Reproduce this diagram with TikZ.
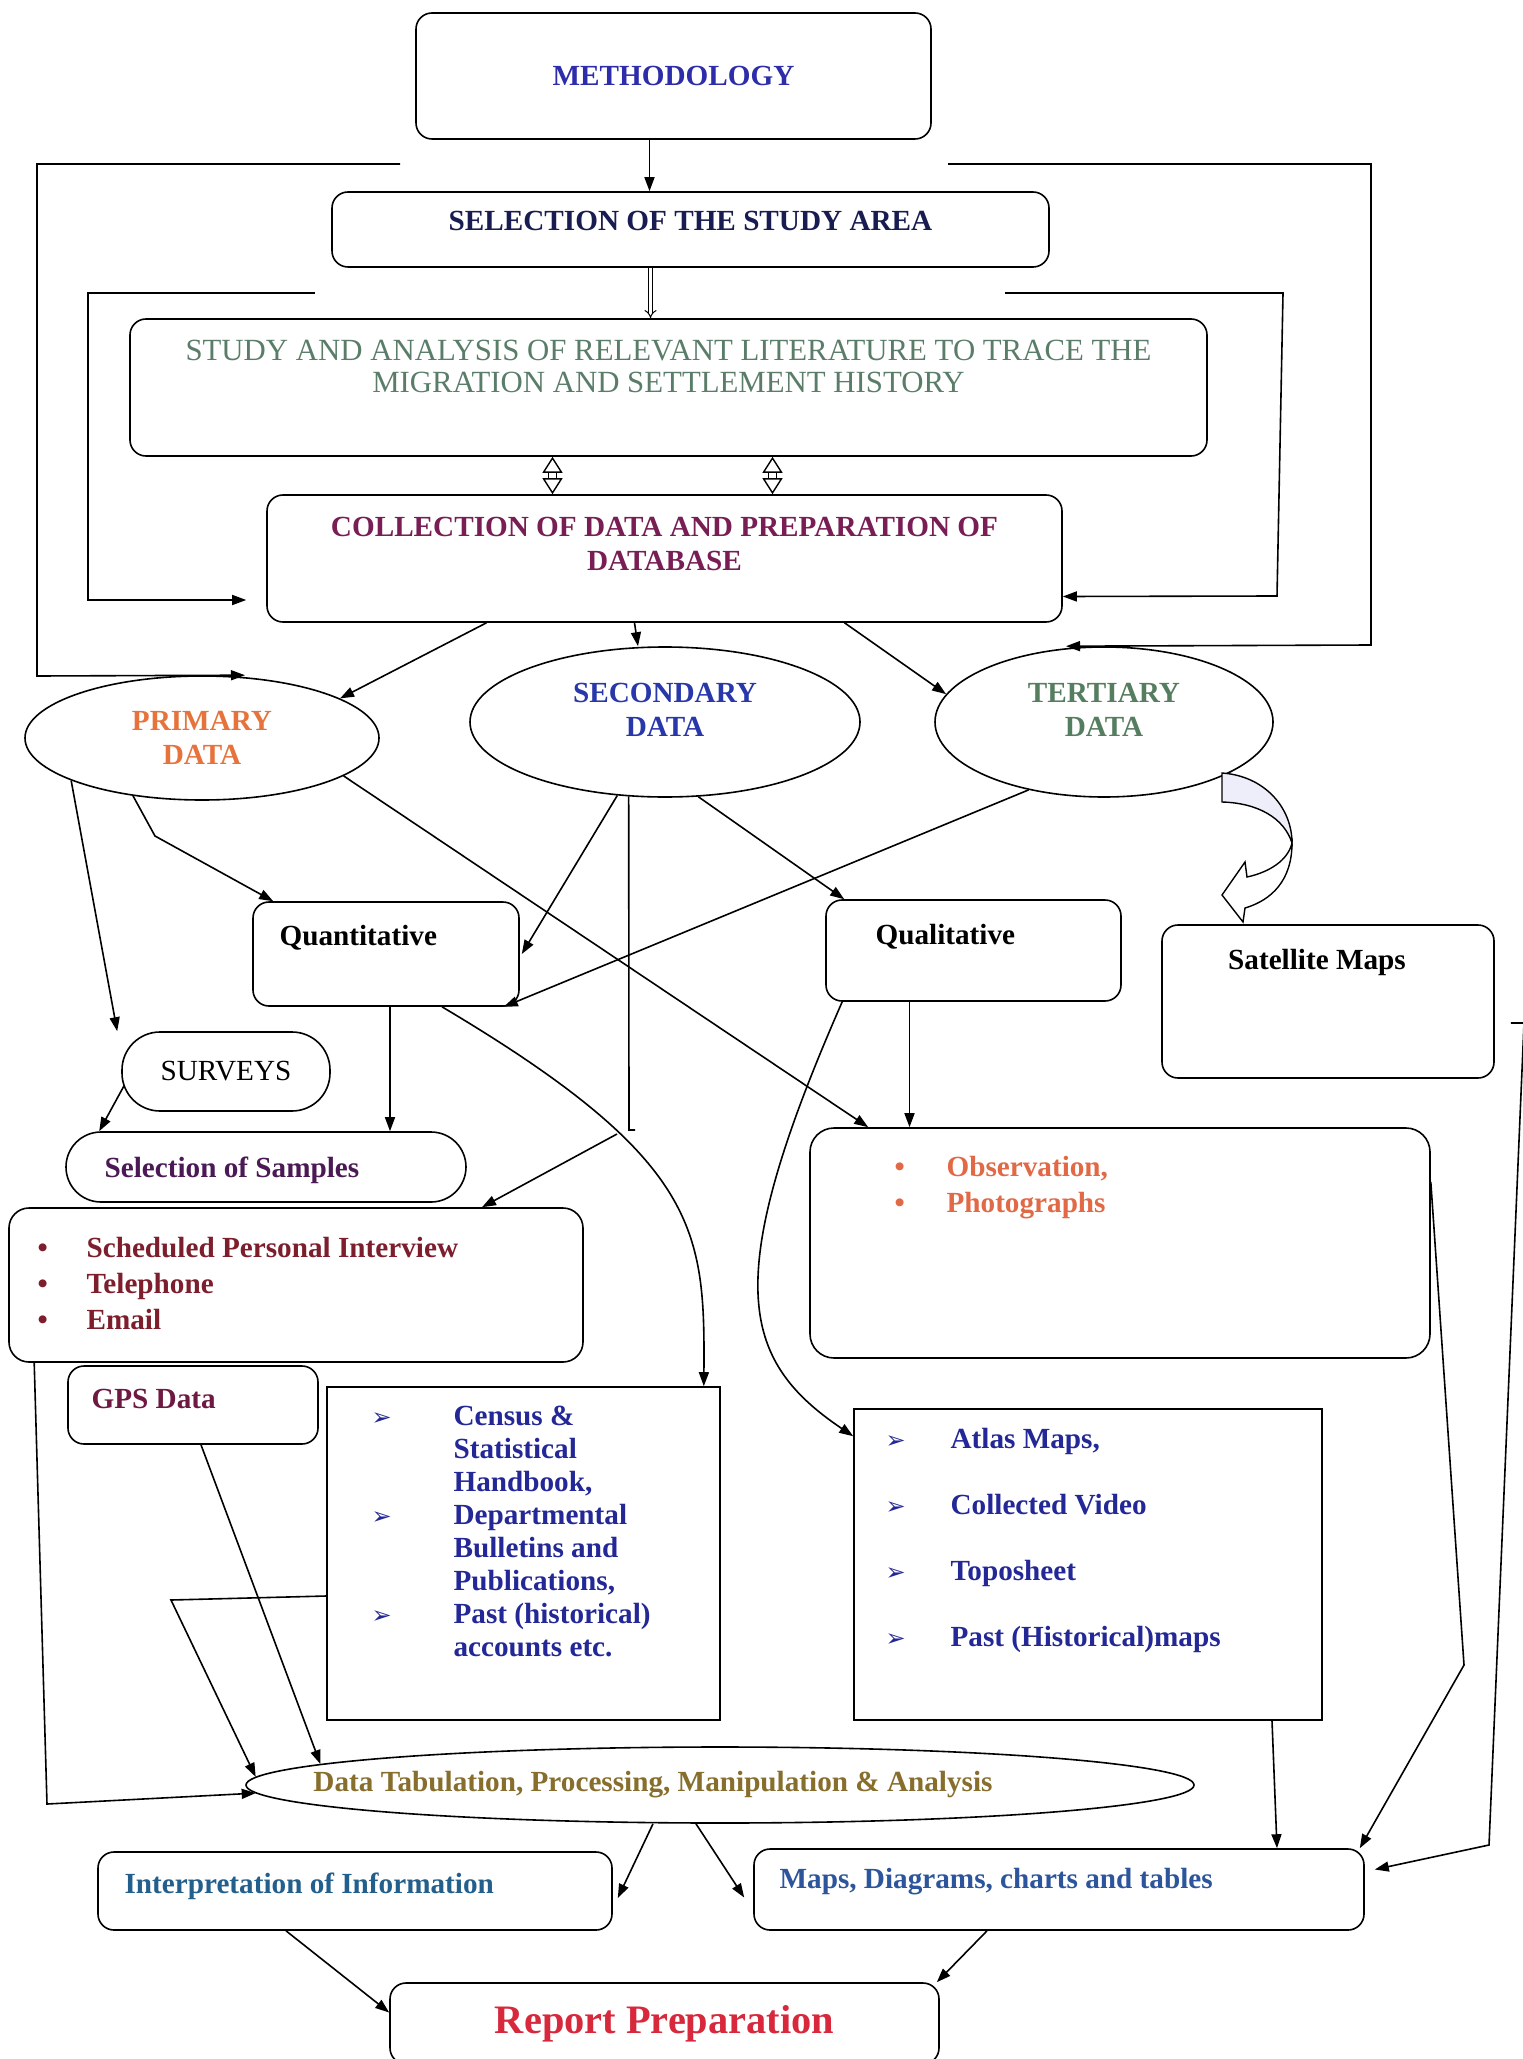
\documentclass[tikz,border=0pt]{standalone}
\usepackage{fontspec}
\setmainfont{Liberation Serif}
\newfontfamily\dejavu{DejaVu Sans}
\usetikzlibrary{arrows.meta,shapes.geometric}

\definecolor{methblue}{RGB}{45,45,170}
\definecolor{selnavy}{RGB}{25,28,80}
\definecolor{studygreen}{RGB}{90,125,105}
\definecolor{collpurple}{RGB}{120,30,85}
\definecolor{primorange}{RGB}{230,115,60}
\definecolor{secblue}{RGB}{40,55,170}
\definecolor{tergreen}{RGB}{85,125,95}
\definecolor{samppurple}{RGB}{75,25,85}
\definecolor{intvmaroon}{RGB}{125,30,45}
\definecolor{gpsmaroon}{RGB}{110,25,65}
\definecolor{obsorange}{RGB}{225,105,70}
\definecolor{censblue}{RGB}{35,40,150}
\definecolor{tabolive}{RGB}{135,110,45}
\definecolor{interpteal}{RGB}{35,95,140}
\definecolor{mapsblue}{RGB}{45,85,155}
\definecolor{repred}{RGB}{215,40,60}
\definecolor{curlfill}{RGB}{238,238,250}

\newcommand{\bodyfont}{\fontsize{14.6}{17}\selectfont\bfseries}
\newcommand{\studyfont}{\fontsize{15.4}{16}\selectfont}
\newcommand{\repfont}{\fontsize{20.2}{24}\selectfont\bfseries}
\newcommand{\arrbul}{{\dejavu\fontsize{12}{12}\selectfont ➢}}

\begin{document}
\begin{tikzpicture}[
    x=0.5pt, y=-0.5pt,
    box/.style={draw, rounded corners=8pt, line width=0.8pt, inner sep=0pt, font=\bodyfont},
    sqbox/.style={draw, line width=0.8pt, inner sep=0pt},
    oval/.style={draw, ellipse, line width=0.8pt, inner sep=0pt, align=center, font=\bodyfont},
    lbl/.style={inner sep=0pt, align=left, font=\bodyfont},
    arrow/.style={-{Triangle[length=7pt,width=5pt]}, line width=0.8pt},
    wire/.style={line width=0.8pt},
    hollow/.style={double, double distance=3.5pt, line width=0.7pt,
        {Triangle[open, length=8pt, width=10pt]}-{Triangle[open, length=8pt, width=10pt]}},
    slim/.style={double, double distance=1.6pt, line width=0.5pt, -{Implies}}
]
    \useasboundingbox[fill=white] (0,0) rectangle (1522,2059);

    % top chain
    \node[box, text=methblue, minimum width=257.5pt, minimum height=63pt] (meth) at (673.5,76) {METHODOLOGY};
    \node[box, minimum width=358.5pt, minimum height=37.5pt,
        label={[lbl, anchor=north, yshift=-10pt, text=selnavy]north:SELECTION OF THE STUDY AREA}] (sel) at (690.5,229.5) {};
    \node[box, minimum width=538.5pt, minimum height=68.5pt,
        label={[lbl, anchor=north, yshift=-11pt, align=center, font=\studyfont, text=studygreen]north:{STUDY AND ANALYSIS OF RELEVANT LITERATURE TO TRACE THE\\MIGRATION AND SETTLEMENT HISTORY}}] (study) at (668.5,387.5) {};
    \node[box, minimum width=397.5pt, minimum height=63.5pt,
        label={[lbl, anchor=north, yshift=-11.5pt, align=center, text=collpurple]north:{COLLECTION OF DATA AND PREPARATION OF\\DATABASE}}] (coll) at (664.5,558.5) {};

    % data types
    \node[oval, text=primorange, minimum width=177pt, minimum height=62pt] (prim) at (202,738) {PRIMARY\\DATA};
    \node[oval, minimum width=195pt, minimum height=75pt,
        label={[lbl, align=center, yshift=6pt, text=secblue]center:{SECONDARY\\DATA}}] (sec) at (665,722) {};
    \node[oval, minimum width=169pt, minimum height=75pt,
        label={[lbl, align=center, yshift=6pt, text=tergreen]center:{TERTIARY\\DATA}}] (ter) at (1104,722) {};

    \node[box, minimum width=133pt, minimum height=52pt,
        label={[lbl, anchor=north west, xshift=13.5pt, yshift=-12pt]north west:Quantitative}] (quant) at (386,954) {};
    \node[box, minimum width=147.5pt, minimum height=50.5pt,
        label={[lbl, anchor=north west, xshift=25pt, yshift=-12.5pt]north west:Qualitative}] (qual) at (973.5,950.5) {};
    \node[box, minimum width=166pt, minimum height=76.5pt,
        label={[lbl, anchor=north, xshift=-5.5pt, yshift=-12.5pt]north:Satellite Maps}] (sat) at (1328,1001.5) {};

    % primary side
    \node[box, rounded corners=19pt, font=\fontsize{14.6}{17}\selectfont, minimum width=104pt, minimum height=39.5pt] (surv) at (226,1071.5) {SURVEYS};
    \node[box, rounded corners=17.5pt, minimum width=200pt, minimum height=35pt,
        label={[lbl, anchor=west, xshift=19.5pt, yshift=-1.5pt, text=samppurple]west:Selection of Samples}] (samp) at (266,1167) {};
    \node[box, rounded corners=10pt, minimum width=287pt, minimum height=77pt,
        label={[lbl, anchor=north west, xshift=14.5pt, yshift=-15pt, text=intvmaroon, font=\fontsize{14.6}{18}\selectfont\bfseries]north west:{\makebox[24.5pt][l]{\textbullet}Scheduled Personal Interview\\\makebox[24.5pt][l]{\textbullet}Telephone\\\makebox[24.5pt][l]{\textbullet}Email}}] (intv) at (296,1285) {};
    \node[box, minimum width=125pt, minimum height=39pt,
        label={[lbl, anchor=north west, xshift=12pt, yshift=-12pt, text=gpsmaroon]north west:GPS Data}] (gps) at (193,1405) {};
    \node[sqbox, minimum width=196.5pt, minimum height=166.5pt,
        label={[lbl, anchor=north west, xshift=22.5pt, yshift=-9.5pt, text=censblue, font=\fontsize{14.6}{16.5}\selectfont\bfseries]north west:{\makebox[41pt][l]{\arrbul}Census \&\\\hspace*{41pt}Statistical\\\hspace*{41pt}Handbook,\\\makebox[41pt][l]{\arrbul}Departmental\\\hspace*{41pt}Bulletins and\\\hspace*{41pt}Publications,\\\makebox[41pt][l]{\arrbul}Past (historical)\\\hspace*{41pt}accounts etc.}}] (cens) at (523.5,1553.5) {};

    % tertiary side
    \node[box, rounded corners=12pt, minimum width=310pt, minimum height=115pt,
        label={[lbl, anchor=north west, xshift=42.5pt, yshift=-14.5pt, text=obsorange, font=\fontsize{14.6}{18}\selectfont\bfseries]north west:{\makebox[26pt][l]{\textbullet}Observation,\\\makebox[26pt][l]{\textbullet}Photographs}}] (obs) at (1120,1243) {};
    \node[sqbox, minimum width=234pt, minimum height=155.5pt,
        label={[lbl, anchor=north west, xshift=16pt, yshift=-10pt, text=censblue, font=\fontsize{14.6}{33}\selectfont\bfseries]north west:{\makebox[32.5pt][l]{\arrbul}Atlas Maps,\\\makebox[32.5pt][l]{\arrbul}Collected Video\\\makebox[32.5pt][l]{\arrbul}Toposheet\\\makebox[32.5pt][l]{\arrbul}Past (Historical)maps}}] (atlas) at (1088,1564.5) {};

    % output
    \node[oval, minimum width=474pt, minimum height=38pt,
        label={[lbl, xshift=-33.5pt, text=tabolive]center:{Data Tabulation, Processing, Manipulation \& Analysis}}] (tab) at (720,1785) {};
    \node[box, minimum width=257pt, minimum height=39pt,
        label={[lbl, anchor=west, xshift=13.5pt, yshift=2.5pt, text=interpteal]west:Interpretation of Information}] (interp) at (355,1891) {};
    \node[box, minimum width=305pt, minimum height=40.5pt,
        label={[lbl, anchor=west, xshift=13pt, yshift=3.75pt, text=mapsblue]west:{Maps, Diagrams, charts and tables}}] (maps) at (1059,1889.5) {};
    \node[box, font=\repfont, text=repred, minimum width=274.5pt, minimum height=40.5pt] (rep) at (664.5,2023.5) {Report Preparation};

    % main chain
    \draw[arrow] ([xshift=-12pt]meth.south) -- ([xshift=-12pt]meth.south |- sel.north);
    \draw[slim] ([xshift=-20pt]sel.south) -- ([xshift=-20pt]sel.south |- study.north);
    \draw[hollow] ([xshift=-58pt]study.south) -- ([xshift=-58pt]study.south |- coll.north);
    \draw[hollow] ([xshift=52pt]study.south) -- ([xshift=52pt]study.south |- coll.north);

    % feedback loops
    \coordinate (loopa) at (400,164);
    \coordinate (loopb) at (948,164);
    \coordinate (loopc) at (315,293);
    \coordinate (loopd) at (1005,293);
    \draw[arrow] (loopa) -- (37,164) -- (37,676) -- ([xshift=21.5pt]prim.north);
    \draw[arrow] (loopb) -- (1371,164) -- (1371,645) -- ([xshift=-19pt]ter.north);
    \draw[arrow] (loopc) -- (88,293) -- (88,600) -- ([xshift=-10pt,yshift=-20.75pt]coll.west);
    \draw[arrow] (loopd) -- (1283,293) -- (1277,596) -- ([yshift=-19pt]coll.east);

    % from the database
    \draw[arrow] ([xshift=-89pt]coll.south) -- (prim.16);
    \draw[arrow] ([xshift=-15pt]coll.south) -- ([xshift=-13.5pt]sec.north);
    \draw[arrow] ([xshift=90pt]coll.south) -- (ter.170);

    % primary data
    \draw[arrow] (prim.220) -- (155,836) -- ([xshift=10.5pt]quant.north west);
    \draw[arrow] (prim.198) -- ([xshift=-2pt]surv.north west);
    \draw[arrow] (prim.-15) -- ([xshift=29.5pt]obs.north west);

    % secondary data
    \draw[arrow] (sec.237) -- ([xshift=1pt]quant.east);
    \coordinate (secdrop) at (629,1130);
    \draw[wire] (sec.244) -- (secdrop) -- ++(6,0);
    \draw[arrow] ([xshift=-6pt,yshift=-2pt]secdrop) -- ([xshift=93pt]intv.north);
    \draw[arrow] (sec.-66) -- ([xshift=9.5pt]qual.north west);

    % tertiary data
    \draw[arrow] (ter.222) -- ([xshift=-8pt]quant.south east);
    \draw[line width=0.7pt, fill=curlfill] (1222,773) .. controls (1265,776) and (1292,808) .. (1292,843)
        .. controls (1284,818) and (1258,803) .. (1222,802) -- cycle;
    \draw[line width=0.7pt, fill=white] (1292,843) .. controls (1292,880) and (1272,900) .. (1245,908)
        -- (1243,922) -- (1222,895) -- (1245,862) -- (1247,877)
        .. controls (1270,872) and (1288,860) .. (1292,843) -- cycle;

    % quantitative / qualitative
    \draw[arrow] ([xshift=2pt]quant.south) -- ([xshift=2pt]quant.south |- samp.north);
    \draw[arrow] ([xshift=1.5pt,yshift=-7pt]surv.west) -- ([xshift=17pt]samp.north west);
    \draw[arrow] ([xshift=28pt]quant.south) .. controls (700,1160) and (705,1230) .. ([xshift=-8.5pt]cens.north east);
    \draw[arrow] ([xshift=-32pt]qual.south) -- ([xshift=-32pt]qual.south |- obs.north);
    \draw[arrow] ([xshift=8.5pt]qual.south west) .. controls (720,1280) and (740,1360) .. ([yshift=-14pt]atlas.north west);

    % into the tabulation
    \draw[arrow] ([xshift=4pt]gps.south) -- (tab.177.5);
    \draw[arrow] ([yshift=-21.25pt]cens.west) -- (171,1600) -- (tab.179);
    \draw[arrow] ([xshift=13pt]intv.south west) -- (47,1804) -- (tab.181);

    % right side
    \draw[arrow] ([yshift=30.5pt]obs.east) -- (1464,1665) -- ([xshift=-2.5pt]maps.north east);
    \draw[arrow] ([xshift=8pt,yshift=-10.75pt]sat.east) -- (1524,1023) -- (1489,1845) -- ([xshift=5pt,yshift=10pt]maps.east);
    \draw[arrow] ([xshift=92pt]atlas.south) -- ([xshift=109pt]maps.north);

    % results
    \draw[arrow] ([xshift=-33.5pt]tab.south) -- ([xshift=2.5pt,yshift=-3.5pt]interp.east);
    \draw[arrow] ([xshift=-12pt]tab.south) -- ([xshift=-4.5pt,yshift=-4pt]maps.west);
    \draw[arrow] ([xshift=-34.5pt]interp.south) -- ([yshift=5.5pt]rep.west);
    \draw[arrow] ([xshift=-36pt]maps.south) -- ([xshift=-1.5pt]rep.north east);
\end{tikzpicture}
\end{document}
